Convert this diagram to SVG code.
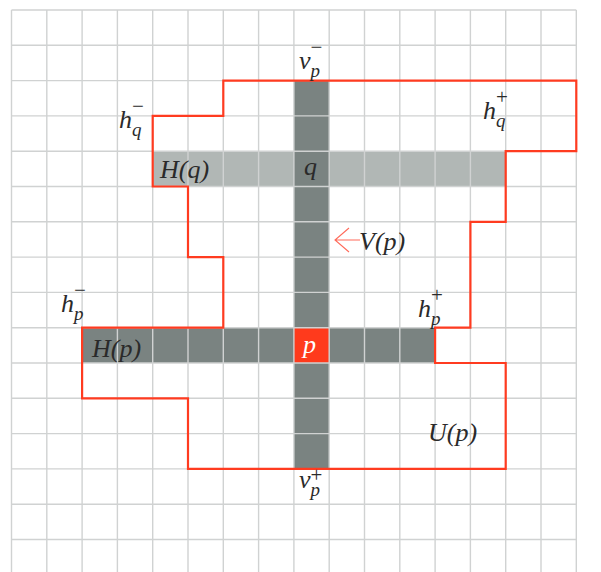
<svg xmlns="http://www.w3.org/2000/svg" width="601" height="572" viewBox="0 0 601 572">
<style>
.grid line{stroke:#d0d2d2;stroke-width:1.4}
.lbl{font-family:"Liberation Serif","DejaVu Serif",serif;font-style:italic;font-size:26px;fill:#2a2a2a}
.sub{font-size:19px}
.sym{font-style:normal;font-size:21px}
</style>
<rect width="601" height="572" fill="#ffffff"/>
<g id="fills">
<rect id="Hq" x="152.7" y="151.2" width="353" height="35.3" fill="#b1b7b5"/>
<rect id="Vp" x="293.9" y="80.6" width="35.3" height="388.3" fill="#7a8381"/>
<rect id="Hp" x="82.1" y="327.7" width="353" height="35.3" fill="#7a8381"/>
<rect id="pcell" x="293.9" y="327.7" width="35.3" height="35.3" fill="#ff3a1c"/>
</g>
<g class="grid">
<line x1="11.5" y1="10" x2="11.5" y2="572"/>
<line x1="46.8" y1="10" x2="46.8" y2="572"/>
<line x1="82.1" y1="10" x2="82.1" y2="572"/>
<line x1="117.4" y1="10" x2="117.4" y2="572"/>
<line x1="152.7" y1="10" x2="152.7" y2="572"/>
<line x1="188" y1="10" x2="188" y2="572"/>
<line x1="223.3" y1="10" x2="223.3" y2="572"/>
<line x1="258.6" y1="10" x2="258.6" y2="572"/>
<line x1="293.9" y1="10" x2="293.9" y2="572"/>
<line x1="329.2" y1="10" x2="329.2" y2="572"/>
<line x1="364.5" y1="10" x2="364.5" y2="572"/>
<line x1="399.8" y1="10" x2="399.8" y2="572"/>
<line x1="435.1" y1="10" x2="435.1" y2="572"/>
<line x1="470.4" y1="10" x2="470.4" y2="572"/>
<line x1="505.7" y1="10" x2="505.7" y2="572"/>
<line x1="541" y1="10" x2="541" y2="572"/>
<line x1="576.3" y1="10" x2="576.3" y2="572"/>
<line x1="11.5" y1="10" x2="576.3" y2="10"/>
<line x1="11.5" y1="45.3" x2="576.3" y2="45.3"/>
<line x1="11.5" y1="80.6" x2="576.3" y2="80.6"/>
<line x1="11.5" y1="115.9" x2="576.3" y2="115.9"/>
<line x1="11.5" y1="151.2" x2="576.3" y2="151.2"/>
<line x1="11.5" y1="186.5" x2="576.3" y2="186.5"/>
<line x1="11.5" y1="221.8" x2="576.3" y2="221.8"/>
<line x1="11.5" y1="257.1" x2="576.3" y2="257.1"/>
<line x1="11.5" y1="292.4" x2="576.3" y2="292.4"/>
<line x1="11.5" y1="327.7" x2="576.3" y2="327.7"/>
<line x1="11.5" y1="363" x2="576.3" y2="363"/>
<line x1="11.5" y1="398.3" x2="576.3" y2="398.3"/>
<line x1="11.5" y1="433.6" x2="576.3" y2="433.6"/>
<line x1="11.5" y1="468.9" x2="576.3" y2="468.9"/>
<line x1="11.5" y1="504.2" x2="576.3" y2="504.2"/>
<line x1="11.5" y1="539.5" x2="576.3" y2="539.5"/>
</g>
<g id="Up-outline">
<path d="M223.3,80.6 H576.3 V151.2 H505.7 V221.8 H470.4 V327.7 H435.1 V363 H505.7 V468.9 H188 V398.3 H82.1 V327.7 H223.3 V257.1 H188 V186.5 H152.7 V115.9 H223.3 Z" fill="none" stroke="#ff3b20" stroke-width="2.2"/>
</g>
<g id="connectors">
<path d="M335,240 H360 M349,228 L335,240 L349,252" fill="none" stroke="#ff6a5a" stroke-width="1.1"/>
</g>
<g id="labels">
<g id="vp-minus"><text class="lbl" x="299" y="69">v<tspan class="sub" dy="8">p</tspan><tspan class="sym" dx="-9.5" dy="-23">−</tspan></text></g>
<g id="hq-minus"><text class="lbl" x="119" y="128">h<tspan class="sub" dy="8">q</tspan><tspan class="sym" dx="-9.5" dy="-23">−</tspan></text></g>
<g id="Hq-label"><text class="lbl" x="160" y="178">H(q)</text></g>
<g id="q-label"><text class="lbl" x="304" y="175">q</text></g>
<g id="hq-plus"><text class="lbl" x="483" y="119">h<tspan class="sub" dy="8">q</tspan><tspan class="sym" dx="-9.5" dy="-23">+</tspan></text></g>
<g id="Vp-label"><text class="lbl" x="359" y="250">V(p)</text></g>
<g id="hp-minus"><text class="lbl" x="61" y="312">h<tspan class="sub" dy="8">p</tspan><tspan class="sym" dx="-9.5" dy="-23">−</tspan></text></g>
<g id="Hp-label"><text class="lbl" x="92" y="357">H(p)</text></g>
<g id="p-label"><text class="lbl" x="303" y="353" style="fill:#ffffff">p</text></g>
<g id="hp-plus"><text class="lbl" x="418" y="317">h<tspan class="sub" dy="8">p</tspan><tspan class="sym" dx="-9.5" dy="-23">+</tspan></text></g>
<g id="Up-label"><text class="lbl" x="428" y="441">U(p)</text></g>
<g id="vp-plus"><text class="lbl" x="299" y="488">v<tspan class="sub" dy="8">p</tspan><tspan class="sym" dx="-9.5" dy="-14">+</tspan></text></g>
</g>
</svg>
